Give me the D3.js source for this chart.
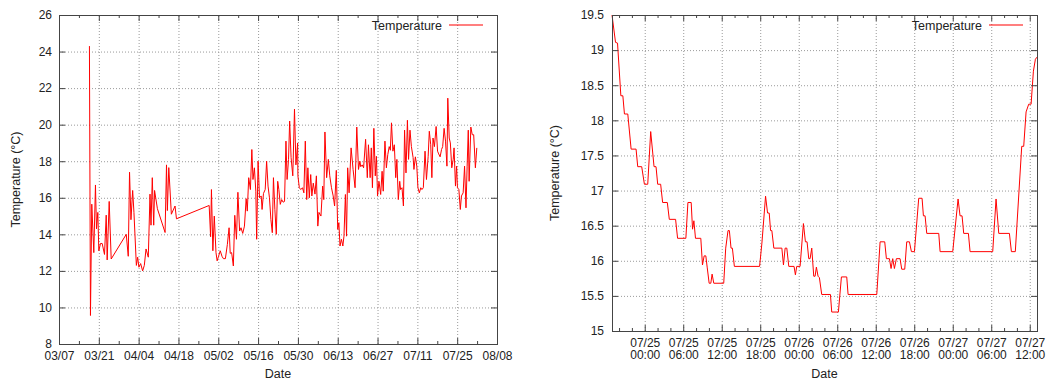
<!DOCTYPE html>
<html>
<head>
<meta charset="utf-8">
<script src="https://cdn.jsdelivr.net/npm/d3@7"></script>
<style>
  body { margin: 0; background: #fff; }
  svg { display: block; font-family: "Liberation Sans", Arial, Helvetica, sans-serif; }
  .grid line { stroke: #9a9a9a; stroke-dasharray: 1, 2; }
  .ticks line { stroke: #444; }
  .labels text { fill: #222; font-size: 12px; }
  .border { fill: none; stroke: #444; }
  .series { fill: none; stroke: #ff0000; stroke-width: 1; stroke-linejoin: round; }
  .title { fill: #222; font-size: 12.5px; }
</style>
</head>
<body>
<svg width="1048" height="381"></svg>
<script>
// long series: days since 03/07, temperature
const longDays = [
  10.7, 11.06, 11.53, 12.24, 12.82, 13.18, 13.65, 14.0, 14.59, 15.18,
  16.0, 16.6, 16.94, 17.65, 18.35, 23.65, 24.35, 24.8, 25.3, 25.9,
  26.35, 27.2, 27.65, 28.1, 28.7, 29.4, 30.0, 30.6, 31.4, 32.0,
  32.35, 32.8, 33.3, 33.6, 34.6, 37.3, 37.8, 38.1, 38.6, 39.5,
  40.8, 41.3,
  52.8, 53.3, 53.6, 54.1, 54.6, 55.2, 55.6, 56.1, 56.7, 57.3,
  57.8, 58.5, 59.2, 59.8, 60.2, 60.7, 61.3, 61.8, 62.4, 62.9,
  63.5, 64.0, 64.6, 65.2, 65.8, 66.2, 66.7, 67.3, 67.8, 68.2,
  68.7, 69.2, 69.5, 70.0, 70.5, 71.1, 71.4, 71.9, 72.5, 73.0,
  73.5, 74.0, 74.5, 75.0, 75.4, 75.9, 76.4, 76.9, 77.3, 77.8,
  78.3, 78.8, 79.3, 79.8, 80.2, 80.7, 81.1, 81.6, 82.2, 82.8,
  83.3, 83.9,
  84.0, 84.5, 85.0, 85.6, 86.1, 86.6, 87.1, 87.5, 88.0, 88.5,
  88.9, 89.4, 90.0, 90.5, 91.0, 91.4, 92.1, 92.7, 93.1, 93.5,
  94.1, 94.7, 95.2, 95.8, 96.4, 96.9, 97.5, 98.0, 98.4, 98.8,
  99.3, 99.8, 100.2, 100.7, 101.1, 101.5, 102.0, 102.7, 103.4, 104.1,
  104.7, 105.3, 105.8, 106.1, 106.6, 107.1, 107.8, 108.4, 108.8, 109.4,
  109.8, 110.2, 110.7, 111.2, 111.6, 112.0, 112.5, 113.1, 113.6, 114.0,
  114.6, 115.1, 115.6, 116.1, 116.5, 116.9, 117.4, 117.9, 118.4, 118.8,
  119.3, 119.8,
  120.1, 120.6, 121.1, 121.5, 122.0, 122.5, 122.9, 123.4, 123.9, 124.5,
  124.8, 125.3, 125.8, 126.2, 126.7, 127.2, 127.6, 128.1, 128.7, 129.2,
  129.8, 130.2, 130.7, 131.1, 131.5, 132.0, 132.6, 133.1, 133.5, 134.0,
  134.5, 134.9, 135.4, 135.9, 136.4, 136.7, 137.2, 137.6, 138.1, 138.6,
  138.9, 139.4, 139.8, 140.1, 140.6, 141.1, 141.5, 142.1, 142.6, 143.1,
  143.5, 143.9, 144.2, 144.8, 145.3, 145.8, 146.4, 146.9
];
const longTemps = [
  24.3, 9.56, 15.65, 13.0, 16.7, 14.3, 15.2, 13.1, 13.5, 13.5,
  12.9, 15.05, 12.6, 15.8, 12.65, 14.0, 12.8, 17.4, 14.8, 16.4,
  15.2, 12.3, 12.75, 12.2, 12.4, 12.0, 12.3, 13.2, 12.75, 16.2,
  14.5, 17.1, 14.5, 16.4, 15.4, 14.1, 17.8, 15.3, 17.65, 15.1,
  15.55, 14.85,
  15.58, 13.87, 16.45, 13.1, 15.0, 13.0, 12.55, 12.8, 13.1, 12.8,
  12.67, 12.67, 13.45, 14.36, 12.96, 13.0, 12.27, 15.04, 13.73, 16.3,
  14.18, 14.36, 14.05, 14.45, 15.95, 15.27, 17.1, 16.45, 18.64, 17.0,
  17.64, 16.36, 13.73, 18.0, 16.0, 16.1, 15.36, 16.24, 16.45, 18.0,
  16.64, 16.0, 14.82, 14.09, 17.1, 15.36, 14.0, 16.9, 16.45, 15.64,
  15.9, 15.76, 15.8, 19.1, 17.0, 18.1, 20.2, 18.2, 17.2, 20.85,
  17.8, 19.0,
  17.2, 16.55, 16.45, 16.55, 16.27, 19.1, 15.9, 17.64, 16.0, 17.27,
  16.1, 16.8, 16.2, 17.2, 14.45, 15.2, 15.0, 16.64, 15.9, 19.6,
  17.1, 18.1, 17.2, 16.55, 16.1, 15.55, 17.5, 14.27, 14.64, 13.36,
  13.73, 13.36, 13.9, 16.18, 13.9, 17.64, 16.27, 18.73, 17.55, 16.55,
  19.87, 17.55, 18.0, 17.7, 17.8, 17.64, 19.2, 17.1, 18.9, 17.1,
  18.73, 16.55, 19.8, 17.2, 18.27, 16.1, 16.9, 16.18, 17.45, 16.36,
  19.1, 17.64, 18.36, 18.8, 18.6, 20.1, 18.55, 18.9, 17.1, 18.1,
  15.9, 16.9,
  16.45, 16.55, 15.55, 19.7, 17.36, 20.24, 18.1, 19.7, 18.8, 18.2,
  17.55, 18.24, 17.73, 16.55, 16.27, 16.55, 16.45, 16.55, 18.55, 17.0,
  18.27, 19.64, 18.9, 17.1, 19.27, 18.8, 19.9, 18.55, 18.4, 18.24,
  18.64, 18.8, 19.8, 19.1, 17.73, 21.45, 19.27, 19.0, 17.64, 18.1,
  18.73, 16.64, 17.73, 16.55, 16.45, 15.36, 16.1, 16.27, 17.73, 15.45,
  17.73, 19.7, 16.9, 19.87, 19.45, 19.45, 17.64, 18.73
];

// short series: hours since 07/25 00:00, temperature
const shortHours = [
  -5.1, -4.55, -4.24, -3.72, -3.41, -3.16, -2.64, -2.12, -1.35, -1.09,
  -0.47, -0.05, 0.47, 0.93, 1.45, 1.76, 2.02, 2.48,
  2.79, 3.52, 3.83, 4.81, 5.12, 6.41, 6.73, 7.24, 7.45, 7.66,
  7.91, 8.74, 9.0, 9.26, 9.52, 9.73, 10.04, 10.3, 10.5, 10.76,
  12.31, 12.62, 12.98, 13.19, 13.45, 13.66, 13.97, 17.9, 18.26, 18.83,
  19.14, 19.4, 19.61, 19.81, 20.12, 21.37, 21.62, 21.88, 22.14, 22.45,
  23.27, 23.48, 23.69, 24.21, 24.73, 25.04, 25.3, 25.56, 25.77, 26.03,
  26.34, 26.55, 26.75, 27.01, 27.22, 27.58, 28.94, 29.14, 30.18, 30.65,
  31.48, 31.69, 36.16, 36.68, 37.4, 37.66, 38.13, 38.39, 38.65, 38.91,
  39.22, 39.79, 40.05, 40.52, 40.83, 41.25, 41.56, 42.03, 42.7, 43.22,
  43.43, 43.69, 43.95, 45.82, 46.03, 48.0, 48.83, 49.14, 49.45, 49.71,
  50.44, 50.7, 54.23, 54.75, 55.17, 56.83, 57.14, 57.75,
  58.75, 59.06, 59.43, 59.84, 60.21, 60.57, 60.88, 61.13
];
const shortTemps = [
  19.5, 19.11, 19.1, 18.35, 18.35, 18.09, 18.09, 17.59, 17.59, 17.34,
  17.34, 17.09, 17.09, 17.84, 17.34, 17.34, 17.09, 17.09,
  16.83, 16.83, 16.59, 16.59, 16.32, 16.32, 16.83, 16.83, 16.45, 16.57,
  16.32, 16.32, 15.94, 16.07, 16.07, 15.91, 15.68, 15.68, 15.81, 15.68,
  15.68, 16.18, 16.43, 16.43, 16.18, 16.18, 15.92, 15.92, 16.25, 16.92,
  16.68, 16.68, 16.43, 16.43, 16.18, 16.18, 15.94, 16.18, 16.18, 15.92,
  15.92, 15.8, 15.92, 15.92, 16.53, 16.27, 16.27, 16.03, 16.03, 16.18,
  15.78, 15.78, 15.91, 15.78, 15.76, 15.52, 15.52, 15.27, 15.27, 15.77,
  15.77, 15.52, 15.52, 16.27, 16.27, 16.03, 16.03, 15.89, 16.03, 15.89,
  16.03, 16.03, 15.88, 15.88, 16.27, 16.27, 16.13, 16.13, 16.89, 16.89,
  16.64, 16.64, 16.39, 16.39, 16.13, 16.13, 16.88, 16.64, 16.64, 16.39,
  16.39, 16.13, 16.13, 16.88, 16.39, 16.39, 16.13, 16.13,
  17.63, 17.63, 18.12, 18.23, 18.23, 18.7, 18.87, 18.9
];

const longYTicks = [8, 10, 12, 14, 16, 18, 20, 22, 24, 26];
const shortYTicks = [15, 15.5, 16, 16.5, 17, 17.5, 18, 18.5, 19, 19.5];
const longTickDays = [0, 14, 28, 42, 56, 70, 84, 98, 112, 126, 140, 154];
const seriesName = 'Temperature';
const yTitle = 'Temperature (°C)';
const xTitle = 'Date';

const longStart = Date.UTC(2014, 2, 7);
const shortStart = Date.UTC(2014, 6, 25);
const dayMs = 864e5, hourMs = 36e5;

const longData = longDays.map((d, i) => ({ t: new Date(longStart + d * dayMs), v: longTemps[i] }));
const shortData = shortHours.map((h, i) => ({ t: new Date(shortStart + h * hourMs), v: shortTemps[i] }));

const svg = d3.select('svg');
const fmtDay = d3.utcFormat('%m/%d');
const fmtTime = d3.utcFormat('%H:%M');

function drawPanel(p) {
  const { x, y } = p;
  const [left, right] = x.range();
  const [bottom, top] = y.range();
  const g = svg.append('g');

  // grid
  g.append('g').attr('class', 'grid').attr('transform', `translate(0,${bottom})`)
    .call(d3.axisBottom(x).tickValues(p.xMajor).tickSize(-(bottom - top)).tickFormat(''))
    .call(a => a.select('.domain').remove());
  g.append('g').attr('class', 'grid').attr('transform', `translate(${left},0)`)
    .call(d3.axisLeft(y).tickValues(p.yTicks).tickSize(-(right - left)).tickFormat(''))
    .call(a => a.select('.domain').remove());

  // series
  const line = d3.line().x(d => x(d.t)).y(d => y(d.v));
  g.append('path').datum(p.data).attr('class', 'series').attr('d', line);

  // ticks on all four sides, pointing inward
  const ticks = (axis, tx, ty, values, size) => g.append('g').attr('class', 'ticks')
    .attr('transform', `translate(${tx},${ty})`)
    .call(axis.tickValues(values).tickSize(-size).tickFormat(''))
    .call(a => a.select('.domain').remove());
  ticks(d3.axisBottom(x), 0, bottom, p.xMajor, 6);
  ticks(d3.axisTop(x), 0, top, p.xMajor, 6);
  ticks(d3.axisBottom(x), 0, bottom, p.xMinor, 3);
  ticks(d3.axisTop(x), 0, top, p.xMinor, 3);
  ticks(d3.axisLeft(y), left, 0, p.yTicks, 6);
  ticks(d3.axisRight(y), right, 0, p.yTicks, 6);

  g.append('rect').attr('class', 'border')
    .attr('x', left + 0.5).attr('y', top + 0.5)
    .attr('width', right - left).attr('height', bottom - top);

  // tick labels
  const xl = g.append('g').attr('class', 'labels').attr('transform', `translate(0,${bottom})`)
    .call(d3.axisBottom(x).tickValues(p.xMajor).tickSize(0).tickFormat(fmtDay))
    .call(a => a.select('.domain').remove())
    .attr('font-size', null).attr('font-family', null);
  xl.selectAll('.tick text').attr('dy', null).attr('y', 16);
  if (p.twoLine) {
    xl.selectAll('.tick text').each(function (d) {
      const t = d3.select(this).text(null);
      t.append('tspan').attr('x', 0).attr('y', 16).text(fmtDay(d));
      t.append('tspan').attr('x', 0).attr('y', 28).text(fmtTime(d));
    });
  }
  g.append('g').attr('class', 'labels').attr('transform', `translate(${left},0)`)
    .call(d3.axisLeft(y).tickValues(p.yTicks).tickSize(0).tickPadding(p.yPad).tickFormat(d3.format('')))
    .call(a => a.select('.domain').remove())
    .attr('font-size', null).attr('font-family', null);

  // titles
  g.append('text').attr('class', 'title').attr('text-anchor', 'middle')
    .attr('x', (left + right) / 2).attr('y', 378).text(xTitle);
  g.append('text').attr('class', 'title').attr('text-anchor', 'middle')
    .attr('transform', `translate(${p.yTitleX},${(top + bottom) / 2}) rotate(-90)`)
    .text(yTitle);

  // key
  g.append('text').attr('class', 'title').attr('text-anchor', 'end')
    .attr('x', right - 55).attr('y', 29.5).text(seriesName);
  g.append('path')
    .attr('d', `M${right - 48},25H${right - 14}`)
    .attr('fill', 'none').attr('stroke', '#ff0000').attr('stroke-width', 1.2);
}

// left: whole period
const longX = d3.scaleUtc()
  .domain([new Date(longStart), new Date(longStart + 154 * dayMs)])
  .range([59, 497]);
const longY = d3.scaleLinear().domain([8, 26]).range([344, 15]);
drawPanel({
  x: longX, y: longY, data: longData,
  xMajor: longTickDays.map(d => new Date(longStart + d * dayMs)),
  xMinor: longTickDays.slice(0, -1).map(d => new Date(longStart + (d + 7) * dayMs)),
  yTicks: longYTicks, yPad: 7, yTitleX: 20, twoLine: false
});

// right: last days
const shortX = d3.scaleUtc().domain(d3.extent(shortData, d => d.t)).range([612, 1037]);
const shortY = d3.scaleLinear().domain([15, 19.5]).range([331, 15]);
drawPanel({
  x: shortX, y: shortY, data: shortData,
  xMajor: shortX.ticks(d3.utcHour.every(6)),
  xMinor: shortX.ticks(d3.utcHour.every(2)).filter(d => d.getUTCHours() % 6 !== 0),
  yTicks: shortYTicks, yPad: 8, yTitleX: 559, twoLine: true
});
</script>
</body>
</html>
